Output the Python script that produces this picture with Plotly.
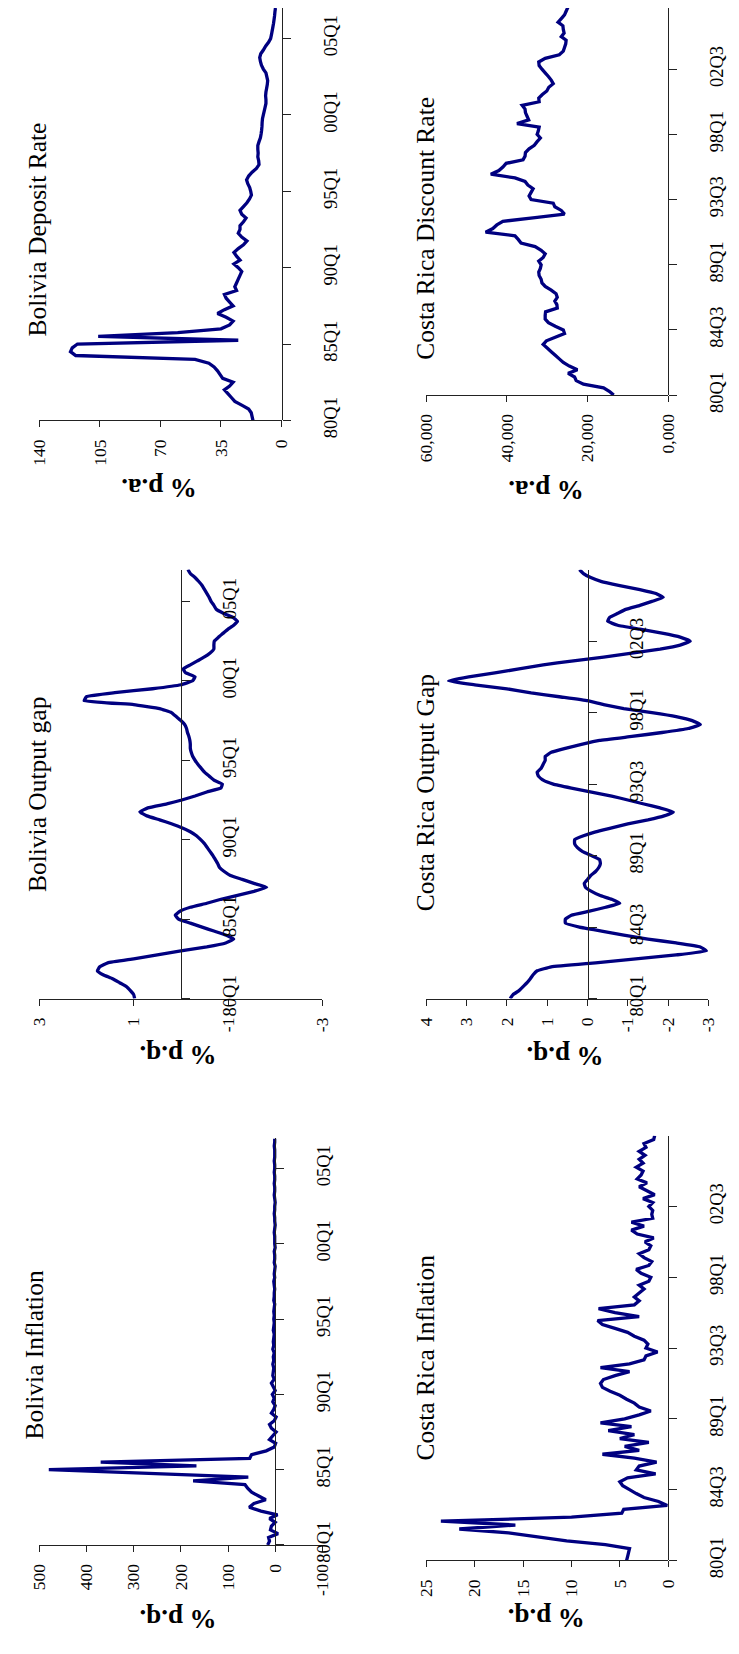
import numpy as np
import plotly.graph_objects as go

# The page body keeps the browser's default 8px margin, so the figure is sized
# to fill the 739x1654 window exactly and every page position is shifted by 8px.
PAGE_W, PAGE_H = 739, 1654
OFF = 8
W, H = PAGE_W - 2 * OFF, PAGE_H - 2 * OFF
NAVY = "#000080"
AX = "#222222"
SERIF = "Liberation Serif, Times New Roman, serif"

# ---------------- data (quarterly, 80Q1 ...) ----------------
bol_ticks = [0, 20, 40, 60, 80, 100]
bol_tick_labels = ["80Q1", "85Q1", "90Q1", "95Q1", "00Q1", "05Q1"]
cr_ticks = [0, 18, 36, 54, 72, 90]
cr_tick_labels = ["80Q1", "84Q3", "89Q1", "93Q3", "98Q1", "02Q3"]

bol_deposit = [16.5, 17, 17.5, 19, 23, 27, 29, 31, 33, 30,
               28, 34, 35.5, 37, 39, 42, 50, 119, 122, 121,
               118, 25, 106, 60, 35, 30, 28, 32, 37, 33,
               28, 30, 32, 33, 26, 27, 26, 25, 24, 23,
               25, 27.5, 24, 26, 27.5, 25, 22, 20, 23, 25,
               24, 24, 22, 20.5, 23, 24, 22, 20, 18.5, 17.4,
               17.8, 18.4, 19.5, 20.2, 19, 17, 14.5, 13, 13.2, 13.7,
               13.5, 13.7, 13.7, 13, 12.2, 11.8, 11.5, 11.3, 11.2, 11,
               10.5, 10, 9.5, 9, 9, 9.2, 9, 8.6, 8.2, 8,
               8.5, 9, 10.5, 11.6, 12.2, 12.6, 12, 10.5, 9.2, 7.5,
               6.3, 5.8, 5.4, 5, 4.6, 4.3, 4, 3.8, 3.5]

cr_discount = [13.5, 14.5, 16.0, 21.0, 22.8, 23.2, 24.8, 22.5, 24.5, 26.0,
               27.0, 28.0, 29.0, 30.0, 31.0, 30.2, 28.0, 25.7, 26.0, 28.0,
               29.7, 30.5, 30.5, 30.4, 27.5, 27.6, 28.1, 27.5, 27.8, 29.0,
               30.5, 31.3, 31.5, 32.0, 32.1, 31.7, 31.5, 32.1, 31.0, 30.5,
               31.5, 33.0, 36.5, 37.2, 38.0, 45.3, 43.5, 42.5, 41.0, 33.0,
               25.7, 26.5, 28.1, 28.5, 34.0, 34.5, 34.0, 33.5, 34.8, 35.5,
               38.0, 44.0, 42.0, 41.0, 40.2, 36.0, 35.5, 35.4, 34.5, 33.2,
               32.5, 31.7, 32.5, 32.2, 32.0, 37.5, 34.6, 35.0, 35.4, 35.5,
               36.2, 32.0, 32.1, 31.2, 30.1, 29.6, 28.5, 29.0, 29.7, 30.5,
               31.3, 32.0, 32.1, 30.5, 27.0, 26.0, 25.7, 25.4, 25.3, 26.5,
               25.8, 26.0, 26.1, 27.3, 26.5, 25.7, 25.3, 24.9, 25.2]

bol_gap = [0.98, 1.0, 1.07, 1.15, 1.3, 1.45, 1.65, 1.77, 1.72, 1.55,
           1.0, 0.5, 0.0, -0.55, -0.95, -1.12, -0.95, -0.7, -0.45, -0.2,
           0.05, 0.12, 0.02, -0.2, -0.55, -0.85, -1.2, -1.55, -1.82, -1.55,
           -1.3, -1.05, -0.92, -0.82, -0.78, -0.73, -0.68, -0.62, -0.56, -0.5,
           -0.42, -0.33, -0.2, -0.02, 0.2, 0.45, 0.72, 0.87, 0.7, 0.3,
           -0.02, -0.3, -0.55, -0.85, -0.88, -0.7, -0.6, -0.5, -0.43, -0.36,
           -0.3, -0.25, -0.22, -0.2, -0.2, -0.19, -0.17, -0.14, -0.12, -0.08,
           0.0, 0.1, 0.2, 0.45, 1.0, 2.05, 2.0, 1.4, 0.6, 0.0,
           -0.25, -0.3, -0.1, -0.05, -0.2, -0.35, -0.5, -0.62, -0.7, -0.7,
           -0.71, -0.8, -0.9, -1.0, -1.12, -1.2, -1.1, -0.9, -0.75, -0.7,
           -0.64, -0.6, -0.55, -0.5, -0.45, -0.38, -0.3, -0.2, -0.15]

cr_gap = [1.92, 1.85, 1.7, 1.6, 1.5, 1.42, 1.35, 1.25, 0.9, -0.2,
          -1.2, -2.2, -2.95, -2.8, -2.2, -1.5, -0.9, -0.35, 0.2, 0.55,
          0.55, 0.4, -0.05, -0.45, -0.8, -0.6, -0.3, -0.1, 0.05, 0.08,
          0.0, -0.08, -0.2, -0.28, -0.32, -0.3, -0.1, 0.12, 0.25, 0.32,
          0.32, 0.1, -0.2, -0.6, -1.0, -1.5, -1.9, -2.13, -1.8, -1.4,
          -1.0, -0.6, -0.1, 0.4, 0.85, 1.1, 1.22, 1.25, 1.15, 1.1,
          1.05, 1.05, 0.9, 0.55, 0.15, -0.3, -1.1, -1.85, -2.5, -2.8,
          -2.6, -2.2, -1.6, -0.9, -0.4, 0.0, 0.7, 1.4, 2.0, 2.8,
          3.45, 2.95, 2.3, 1.7, 1.1, 0.4, -0.4, -1.1, -1.8, -2.3,
          -2.55, -2.3, -1.85, -1.3, -0.75, -0.5, -0.55, -0.75, -0.95, -1.3,
          -1.6, -1.88, -1.7, -1.3, -0.8, -0.35, -0.08, 0.1, 0.2]

bol_inflation = [16, 12, 14, -6, 10, 8, 0, 12, -5, 30,
                 55, 45, 20, 35, 50, 58, 64, 174, 57, 268,
                 480, 167, 370, 54, 50, 19, 2, -1, 12, 5,
                 -2, 8, 12, 2, -2, 8, 3, 0, 5, 2,
                 6, 0, 4, 8, 2, 5, 4, 3, 5, 3,
                 4, 2, 5, 3, 4, 3, 2, 4, 3, 2,
                 3, 2, 3, 2, 1, 3, 2, 2, 1, 2,
                 3, 1, 2, 1, 0, 2, 1, 1, 2, 0,
                 1, 1, 1, 2, 1, 0, 1, 1, 2, 1,
                 1, 0, 1, 2, 1, 1, 2, 1, 1, 2,
                 1, 1, 2, 1, 1, 1, 2, 1, 1]

cr_inflation = [4.3, 4.2, 4.1, 4.0, 6.5, 10.5, 13.5, 16.5, 21.6, 15.8,
                23.5, 10.0, 4.8, 4.6, 0.1, 1.0, 2.5, 3.3, 4.0, 4.7,
                5.0, 4.2, 1.3, 3.3, 3.0, 1.2, 3.5, 6.8, 3.0, 4.5,
                2.0, 5.0, 3.5, 6.2, 3.8, 7.0, 4.5, 3.0, 1.8, 3.0,
                3.5, 4.3, 5.0, 6.0, 6.8, 7.0, 6.7, 5.5, 4.0, 7.0,
                4.0, 2.5, 2.3, 1.1, 2.3, 2.1, 2.5, 3.5, 4.2, 5.5,
                6.8, 7.3, 3.0, 5.5, 7.2, 3.5, 3.0, 3.5, 3.0, 2.5,
                3.0, 2.0, 1.8, 2.8, 3.3, 2.0, 1.7, 2.5, 3.0, 2.0,
                1.8, 2.4, 1.5, 3.2, 3.8, 2.5, 3.8, 1.6, 1.7, 1.6,
                2.0, 1.6, 2.6, 1.4, 2.2, 3.0, 2.2, 3.2, 2.8, 2.6,
                3.3, 2.6, 3.0, 2.4, 3.0, 2.3, 2.5, 1.5, 1.4]

titles = ["Bolivia Deposit Rate", "Costa Rica Discount Rate",
          "Bolivia Output gap", "Costa Rica Output Gap",
          "Bolivia Inflation", "Costa Rica Inflation"]
unit_labels = ["% p.a.", "% p.a.", "% p.q.", "% p.q.", "% p.q.", "% p.q."]

value_ticks = [
    ([140, 105, 70, 35, 0], ["140", "105", "70", "35", "0"]),
    ([60, 40, 20, 0], ["60,000", "40,000", "20,000", "0,000"]),
    ([3, 1, -1, -3], ["3", "1", "-1", "-3"]),
    ([4, 3, 2, 1, 0, -1, -2, -3], ["4", "3", "2", "1", "0", "-1", "-2", "-3"]),
    ([500, 400, 300, 200, 100, 0, -100], ["500", "400", "300", "200", "100", "0", "-100"]),
    ([25, 20, 15, 10, 5, 0], ["25", "20", "15", "10", "5", "0"]),
]
value_ranges = [(140, 0), (60, 0), (3, -3), (4, -3), (500, -100), (25, 0)]
series = [bol_deposit, cr_discount, bol_gap, cr_gap, bol_inflation, cr_inflation]
time_ticks = [(bol_ticks, bol_tick_labels), (cr_ticks, cr_tick_labels),
              (bol_ticks, bol_tick_labels), (cr_ticks, cr_tick_labels),
              (bol_ticks, bol_tick_labels), (cr_ticks, cr_tick_labels)]

# ---------------- geometry, in page pixels ----------------
# box: left px (value max), right px (value min), bottom px (first quarter), top px (last quarter)
boxes = [(30, 279, 425, 8), (428, 676.5, 399.4, 4),
         (30, 321, 1009.6, 575.8), (428, 718, 1009.6, 575.9),
         (30, 321, 1562, 1151), (428, 676.7, 1577.7, 1148.2)]
title_pos = [(28, 231.5), (427, 230.7), (28, 803.4), (427, 801.6), (24, 1370), (427, 1372)]
unit_pos = [(153, 494), (551, 496), (173, 1066), (571, 1067), (173, 1637), (551, 1636)]


def fx(px):
    return (px - OFF) / W


def fy(py):
    return (H - (py - OFF)) / H


fig = go.Figure()
layout = dict(width=W, height=H, margin=dict(l=0, r=0, t=0, b=0), autosize=False,
              paper_bgcolor="white", plot_bgcolor="white", showlegend=False,
              font=dict(family=SERIF, color="black"))
annotations = []

for k in range(6):
    n = k + 1
    data = series[k]
    nq = len(data) - 1
    vmax, vmin = value_ranges[k]
    x0, x1, yb, yt = boxes[k]
    ppq = (yb - yt) / nq
    ytop = max(yt, OFF)
    rtop = (yb - ytop) / ppq
    fig.add_trace(go.Scatter(
        x=data, y=np.arange(len(data)), mode="lines",
        line=dict(color=NAVY, width=3.3, shape="spline", smoothing=0.3 if k in (2, 3) else 0),
        xaxis=f"x{n}", yaxis=f"y{n}", hoverinfo="skip"))
    zero_px = x0 + (vmax - 0) / (vmax - vmin) * (x1 - x0)
    xa = "xaxis" if n == 1 else f"xaxis{n}"
    ya = "yaxis" if n == 1 else f"yaxis{n}"
    tv, tt = value_ticks[k]
    layout[xa] = dict(domain=[fx(x0), fx(x1)], range=[vmax, vmin], anchor=f"y{n}",
                      side="bottom", showline=True, linecolor=AX, linewidth=1,
                      ticks="outside", ticklen=6, tickcolor=AX, tickwidth=1,
                      tickvals=tv, ticktext=tt, tickangle=-90, ticklabelstandoff=5,
                      tickfont=dict(family=SERIF, size=17.5, color="black"),
                      showgrid=False, zeroline=False, fixedrange=True)
    qv, qt = time_ticks[k]
    layout[ya] = dict(domain=[fy(yb), min(1.0, fy(ytop))], range=[0, rtop],
                      anchor="free", position=fx(zero_px), side="right",
                      showline=True, linecolor=AX, linewidth=1,
                      ticks="outside", ticklen=8, tickcolor=AX, tickwidth=1,
                      tickvals=qv, ticktext=qt, tickangle=-90, ticklabelstandoff=24,
                      tickfont=dict(family=SERIF, size=18.5, color="black"),
                      showgrid=False, zeroline=False, fixedrange=True)
    tx, ty = title_pos[k]
    annotations.append(dict(text=titles[k], x=fx(tx), y=fy(ty), xref="paper", yref="paper",
                            showarrow=False, textangle=-90, xanchor="center", yanchor="middle",
                            font=dict(family=SERIF, size=25.5, color="black")))
    ux, uy = unit_pos[k]
    annotations.append(dict(text="<b>" + unit_labels[k] + "</b>", x=fx(ux), y=fy(uy),
                            xref="paper", yref="paper", showarrow=False, textangle=180,
                            xanchor="center", yanchor="middle",
                            font=dict(family=SERIF, size=27, color="black")))

layout["annotations"] = annotations
fig.update_layout(**layout)
fig.write_html("out.html", config={"displayModeBar": False})
